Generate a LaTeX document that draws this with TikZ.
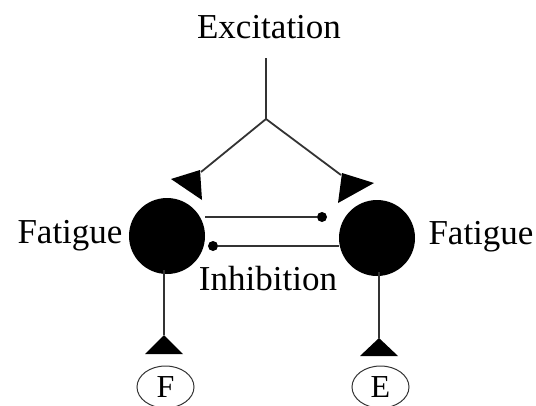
\documentclass[tikz,border=0pt]{standalone}
\usepackage{fontspec}
\setmainfont{Liberation Serif}
\usetikzlibrary{calc,shapes.geometric}
\begin{document}
\begin{tikzpicture}[x=1pt,y=-1pt,
  lbl/.style={inner sep=0pt,font=\fontsize{35}{40}\selectfont},
  cell/.style={circle,fill=black,minimum size=76pt,inner sep=0pt},
  wire/.style={line width=1.8pt,draw=black!80},
  dotend/.style={circle,fill=black,minimum size=10pt,inner sep=0pt},
  outlet/.style={ellipse,draw=black!80,line width=1pt,minimum width=57pt,minimum height=42pt,inner sep=0pt,font=\fontsize{32}{36}\selectfont},
  tri/.style={fill=black}]
\clip (0,0) rectangle (536,405);
\useasboundingbox (0,0) rectangle (536,405);
% labels
\node[lbl] (exc) at (269,27) {Excitation};
\node[lbl] (fl) at (70,236) {Fatigue};
\node[lbl] (fr) at (481,237) {Fatigue};
\node[lbl] (inh) at (268,279) {Inhibition};
% cells
\node[cell] (L) at (167,236) {};
\node[cell] (R) at (377,238) {};
% excitation tree
\coordinate (top) at (266,58);
\coordinate (apex) at (266,119);
\coordinate (la) at (201,172);
\coordinate (ra) at (341,175);
\draw[wire] (top) -- (apex) -- (la);
\draw[wire] (apex) -- (ra);
\fill[tri] (171,179) -- (200,170) -- (202,200) -- cycle;
\fill[tri] (342,173) -- (374,183) -- (338,203) -- cycle;
% inhibition lines
\node[dotend] (d1) at (322,217) {};
\node[dotend] (d2) at (213,246) {};
\draw[wire] (L.east |- d1) -- (d1);
\draw[wire] (d2) -- (R.west |- d2);
% outputs
\node[outlet] (F) at (165.5,387) {F};
\node[outlet] (E) at (380.5,387) {E};
\coordinate (lt) at (164,335);
\coordinate (rt) at (379,338);
\draw[wire] (164,270) -- (lt);
\draw[wire] (379,272) -- (rt);
\fill[tri] (lt) -- (183,354) -- (145,354) -- cycle;
\fill[tri] (rt) -- (398,356) -- (360,356) -- cycle;
\end{tikzpicture}
\end{document}
